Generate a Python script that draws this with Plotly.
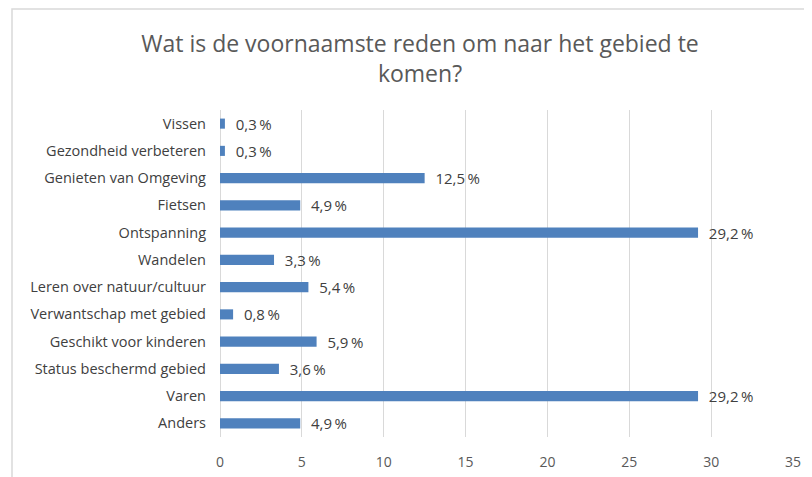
import plotly.graph_objects as go

categories = ["Vissen", "Gezondheid verbeteren", "Genieten van Omgeving", "Fietsen",
              "Ontspanning", "Wandelen", "Leren over natuur/cultuur",
              "Verwantschap met gebied", "Geschikt voor kinderen",
              "Status beschermd gebied", "Varen", "Anders"]
values = [0.3, 0.3, 12.5, 4.9, 29.2, 3.3, 5.4, 0.8, 5.9, 3.6, 29.2, 4.9]
x_ticks = [0, 5, 10, 15, 20, 25, 30, 35]

font_family = "'Open Sans', Lato, sans-serif"

# figure is placed at an 8px offset inside the page
W, H = 804, 469
L, T = 212, 102
PW, PH = 573, 327

fig = go.Figure(go.Bar(
    y=categories,
    x=values,
    orientation="h",
    width=0.37,
    marker=dict(color="#4F81BD", line=dict(width=0)),
    texttemplate="\u00a0\u00a0%{x:.1f}\u2009%",
    textposition="outside",
    constraintext="none",
    textfont=dict(color="#404040", size=15, family=font_family),
    cliponaxis=False,
))

fig.update_layout(
    width=W, height=H,
    separators=",.",
    paper_bgcolor="white", plot_bgcolor="white",
    margin=dict(l=L, r=W - L - PW, t=T, b=H - T - PH, autoexpand=False),
    showlegend=False,
    title=dict(text="Wat is de voornaamste reden om naar het gebied te<br>komen?",
               x=(420 - 8) / W, xanchor="center", y=1 - (52 - 8) / H, yanchor="middle",
               font=dict(size=23, color="#595959", family=font_family)),
    font=dict(family=font_family, color="#595959", size=14),
    xaxis=dict(range=[0, 35], tickvals=x_ticks, showgrid=True, gridcolor="#d9d9d9",
               gridwidth=1, zeroline=True, zerolinecolor="#d9d9d9", zerolinewidth=1,
               showline=False, ticks="", tickfont=dict(size=14, color="#595959"),
               ticklabelstandoff=15),
    yaxis=dict(autorange="reversed", showgrid=False, ticks="", showline=False,
               tickfont=dict(size=14.5, color="#404040"), ticklabelstandoff=13),
    shapes=[dict(type="rect", xref="paper", yref="paper",
                 x0=(4 - L) / PW, x1=1.2, y0=-0.5, y1=1 + (T - 1) / PH,
                 line=dict(color="#d9d9d9", width=1.5), fillcolor="rgba(0,0,0,0)",
                 layer="below")],
)

fig.write_html("out.html")
